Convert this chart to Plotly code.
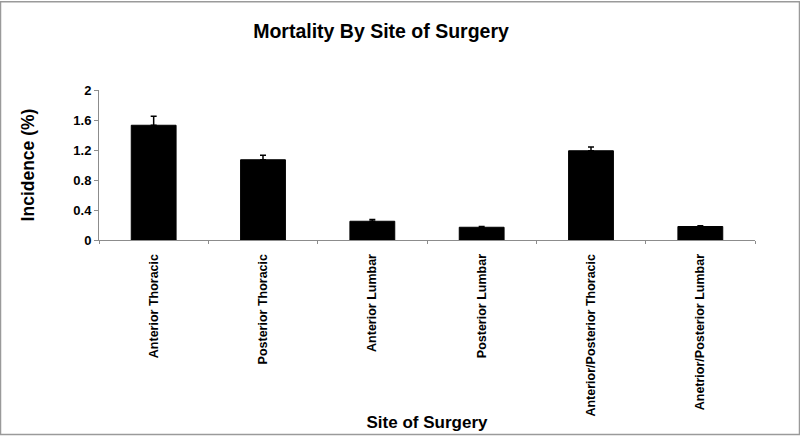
import plotly.graph_objects as go

categories = ["Anterior Thoracic", "Posterior Thoracic", "Anterior Lumbar",
              "Posterior Lumbar", "Anterior/Posterior Thoracic", "Anetrior/Posterior Lumbar"]
incidence = [1.53, 1.07, 0.25, 0.17, 1.19, 0.18]
error_plus = [0.12, 0.06, 0.025, 0.01, 0.05, 0.01]
y_ticks = [0, 0.4, 0.8, 1.2, 1.6, 2]
y_tick_labels = ["0", "0.4", "0.8", "1.2", "1.6", "2"]

W, H = 800, 440
L, R, T, B = 99, 45, 90, 198
pw, ph = W - L - R, H - T - B

font_family = "Liberation Sans, Arial, sans-serif"

fig = go.Figure(go.Bar(
    x=categories, y=incidence,
    marker=dict(color="black", line=dict(color="black", width=1)),
    error_y=dict(type="data", symmetric=False, array=error_plus,
                 arrayminus=[0] * len(error_plus),
                 color="black", thickness=1.5, width=3),
))

def px_x(x):
    return (x - L) / pw

def px_y(y):
    return (H - B - y) / ph

fig.update_layout(
    width=W, height=H, autosize=False,
    margin=dict(l=L, r=R, t=T, b=B),
    paper_bgcolor="white", plot_bgcolor="white",
    showlegend=False,
    bargap=0.59,
    font=dict(family=font_family, color="black"),
    title=dict(text="Mortality By Site of Surgery", x=381 / W, xanchor="center",
               y=1 - 31 / H, yanchor="middle",
               font=dict(size=19.5, weight="bold", family=font_family, color="black")),
    xaxis=dict(
        showline=True, linecolor="#8c8c8c", linewidth=1,
        ticks="outside", tickson="boundaries", ticklen=3, tickcolor="#8c8c8c",
        tickangle=-90, tickfont=dict(size=12.5, weight="bold"),
        ticklabelstandoff=8,
        title=dict(text="Site of Surgery", font=dict(size=17, weight="bold"), standoff=0),
        showgrid=False, zeroline=False,
    ),
    yaxis=dict(
        range=[0, 2], tickvals=y_ticks, ticktext=y_tick_labels,
        showline=True, linecolor="#8c8c8c", linewidth=1,
        ticks="outside", ticklen=4, tickcolor="#8c8c8c",
        tickfont=dict(size=13, weight="bold"),
        title=dict(text="Incidence (%)", font=dict(size=17.5, weight="bold"), standoff=34),
        showgrid=False, zeroline=False,
    ),
    shapes=[dict(type="rect", xref="paper", yref="paper",
                 x0=px_x(0.5), x1=px_x(799.5), y0=px_y(439), y1=px_y(0.5),
                 line=dict(color="#9a9a9a", width=1.5), fillcolor="rgba(0,0,0,0)",
                 layer="below")],
)

fig.write_html("out.html",
               config={"displayModeBar": False, "responsive": False},
               post_script="document.body.style.margin='0';document.body.style.overflow='hidden';")
